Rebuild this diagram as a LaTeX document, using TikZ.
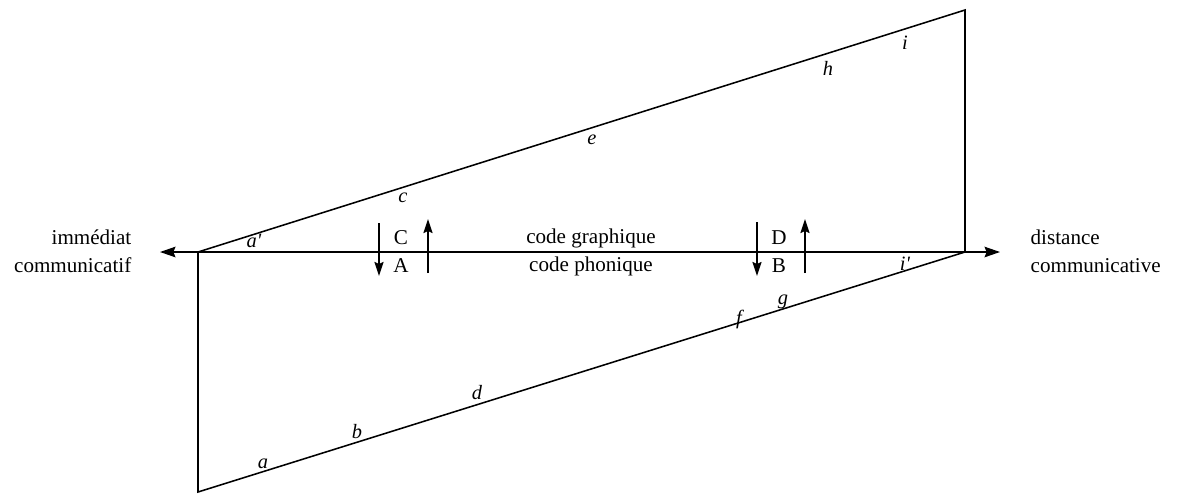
\documentclass[tikz,border=0pt]{standalone}
\usepackage{fontspec}
\setmainfont{Liberation Serif}
\usepackage{tikz}
\usetikzlibrary{arrows.meta,calc}

\begin{document}
\begin{tikzpicture}[x=0.025cm, y=-0.025cm,
          txt/.style={font=\fontsize{15}{20}\selectfont, inner sep=1pt},
          lbl/.style={font=\fontsize{14.5}{16}\selectfont\itshape, inner sep=1pt},
          edge/.style={line width=1.1pt},
          >={Stealth[length=11pt,width=7.5pt,inset=1.5pt]}
        ]
          \useasboundingbox (0,0) rectangle (1177,495);
          % corners of the parallelogram
          \coordinate (L) at (198,252);
          \coordinate (R) at (965,252);
          \coordinate (TR) at (965,10);
          \coordinate (BL) at (198,492);
          \coordinate (lefttip) at (160,252);
          \coordinate (righttip) at (1000,252);
          \draw[edge] (L) -- (TR) -- (R);
          \draw[edge] (L) -- (BL) -- (R);
          \draw[edge,<->] (lefttip) -- (righttip);
          % shifts between the two codes
          \coordinate (Ctop) at (379,223);
          \coordinate (Abot) at (379,276);
          \coordinate (Abase) at (428,273);
          \coordinate (Ctip) at (428,219);
          \coordinate (Dtop) at (757,222);
          \coordinate (Bbot) at (757,276);
          \coordinate (Bbase) at (805,273);
          \coordinate (Dtip) at (805,219);
          \begin{scope}[>={Stealth[length=10pt,width=6.5pt,inset=1.5pt]}]
            \draw[edge,->] (Ctop) -- (Abot);
            \draw[edge,->] (Abase) -- (Ctip);
            \draw[edge,->] (Dtop) -- (Bbot);
            \draw[edge,->] (Bbase) -- (Dtip);
          \end{scope}
          \node[txt] (C) at (401,238) {C};
          \node[txt] (A) at (401,266) {A};
          \node[txt] (D) at (779,238) {D};
          \node[txt] (B) at (779,266) {B};
          \node[txt] (graph) at (591,238) {code graphique};
          \node[txt] (phon) at (591,266) {code phonique};
          \node[txt,align=right,anchor=east] (imm) at (133,251) {immédiat\\communicatif};
          \node[txt,align=left,anchor=west] (dist) at (1029,251) {distance\\communicative};
          % letters along the edges
          \node[lbl] (ap) at (254,241) {a\textquotesingle};
          \node[lbl] (c) at (403,198) {c};
          \node[lbl] (e) at (592,140) {e};
          \node[lbl] (h) at (828,68) {h};
          \node[lbl] (i) at (905,43) {i};
          \node[lbl] (ip) at (905,264) {i\textquotesingle};
          \node[lbl] (a) at (263,464) {a};
          \node[lbl] (b) at (357,432) {b};
          \node[lbl] (d) at (477,393) {d};
          \node[lbl] (f) at (739,319) {f};
          \node[lbl] (g) at (783,302) {g};
        \end{tikzpicture}
\end{document}
